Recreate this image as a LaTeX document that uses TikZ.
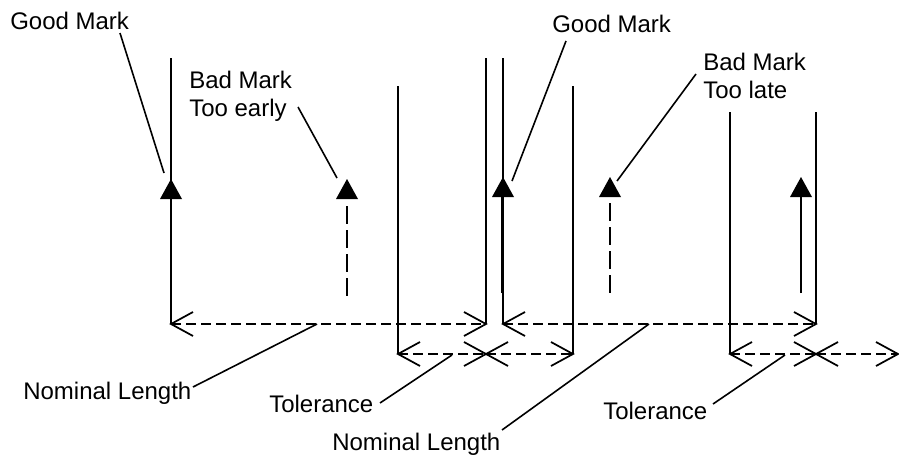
\documentclass[tikz,border=0pt]{standalone}
\usepackage{fontspec}
\setmainfont{Liberation Sans}
\begin{document}
\begin{tikzpicture}[x=0.75pt,y=-0.75pt,
  wall/.style={line width=1.4pt},
  lbl/.style={inner sep=0pt, anchor=north west, font=\fontsize{18}{20.8}\selectfont, align=left},
  leader/.style={line width=1.2pt},
  dim/.style={line width=1.3pt, dash pattern=on 7.5pt off 3.75pt},
  shaft/.style={line width=1.4pt},
  badmark/.style={line width=1.9pt, dash pattern=on 13.5pt off 4.5pt},
  tri/.style={fill=black},
  barbl/.pic={\draw[line width=1.3pt] (22,-12) -- (0,0) -- (22,12);},
  barbr/.pic={\draw[line width=1.3pt] (-22,-12) -- (0,0) -- (-22,12);}
]
\useasboundingbox (0,0) rectangle (899,457);

% labels
\node[lbl] (gm1) at (10,12) {Good Mark};
\node[lbl] (bme) at (189,71) {Bad Mark\\Too early};
\node[lbl] (gm2) at (552,15) {Good Mark};
\node[lbl] (bml) at (703,53) {Bad Mark\\Too late};
\node[lbl] (nl1) at (23,382) {Nominal Length};
\node[lbl] (tol1) at (269,395) {Tolerance};
\node[lbl] (nl2) at (332,433) {Nominal Length};
\node[lbl] (tol2) at (603,402) {Tolerance};

% walls
\coordinate (w1t) at (171,58);  \coordinate (w1b) at (171,324);
\coordinate (w2t) at (398,86);  \coordinate (w2b) at (398,354);
\coordinate (w3t) at (486,58);  \coordinate (w3b) at (486,324);
\coordinate (w4t) at (503,58);  \coordinate (w4b) at (503,324);
\coordinate (w5t) at (573,86);  \coordinate (w5b) at (573,354);
\coordinate (w6t) at (730,112); \coordinate (w6b) at (730,354);
\coordinate (w7t) at (816,112); \coordinate (w7b) at (816,324);
\foreach \i in {1,...,7} {\draw[wall] (w\i t) -- (w\i b);}

% dimension lines
\coordinate (t1m) at (486,354);
\coordinate (t2m) at (816,354);
\coordinate (t2e) at (898,354);
\draw[dim] (w1b) -- (w3b);
\draw[dim] (w4b) -- (w7b);
\draw[dim] (w2b) -- (t1m);
\draw[dim] (t1m) -- (w5b);
\draw[dim] (w6b) -- (t2m);
\draw[dim] (t2m) -- (t2e);
% barbs: left-pointing at starts, right-pointing at ends
\foreach \p in {w1b,w4b,w2b,t1m,w6b,t2m} {\pic at (\p) {barbl};}
\foreach \p in {w3b,w7b,t1m,w5b,t2m,t2e} {\pic at (\p) {barbr};}

% marks: apex coordinates
\coordinate (a1) at (171,179);
\coordinate (a2) at (347,179);
\coordinate (a3) at (503,177);
\coordinate (a4) at (610,177);
\coordinate (a5) at (801,177);
\foreach \a in {a1,a2,a3,a4,a5} {\fill[tri] (\a) -- ++(-11,20) -- ++(22,0) -- cycle;}

% shafts
\coordinate (s3b) at (502,293); \coordinate (s3t) at (502,197);
\coordinate (s5b) at (801,293); \coordinate (s5t) at (801,197);
\draw[shaft, line width=2pt] (s3b) -- (s3t);
\draw[shaft] (s5b) -- (s5t);
\coordinate (b2t) at (347,206); \coordinate (b2b) at (347,296);
\coordinate (b4t) at (610,203); \coordinate (b4b) at (610,293);
\draw[badmark] (b2t) -- (b2b);
\draw[badmark] (b4t) -- (b4b);

% leaders
\coordinate (l1s) at (120,33);  \coordinate (l1e) at (164,173);
\coordinate (l2s) at (298,107); \coordinate (l2e) at (337,178);
\coordinate (l3s) at (566,41);  \coordinate (l3e) at (512,181);
\coordinate (l4s) at (696,74);  \coordinate (l4e) at (617,181);
\coordinate (l5s) at (193,387); \coordinate (l5e) at (317,324);
\coordinate (l6s) at (380,403); \coordinate (l6e) at (452,355);
\coordinate (l7s) at (502,430); \coordinate (l7e) at (649,324);
\coordinate (l8s) at (713,404); \coordinate (l8e) at (785,355);
\foreach \i in {1,...,8} {\draw[leader] (l\i s) -- (l\i e);}
\end{tikzpicture}
\end{document}
